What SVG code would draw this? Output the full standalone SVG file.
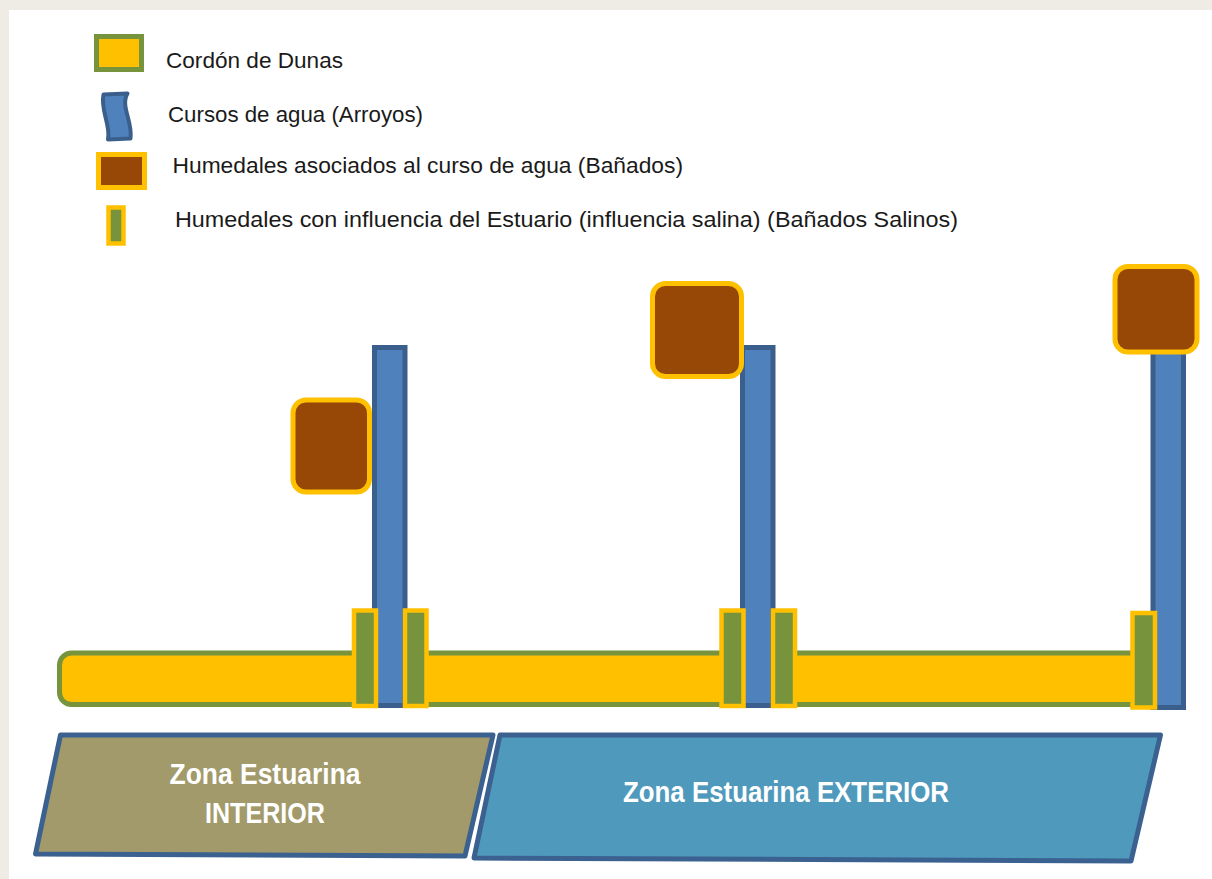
<svg xmlns="http://www.w3.org/2000/svg" width="1212" height="879" viewBox="0 0 1212 879">
  <style>
    .leg { font-family: "Liberation Sans", Arial, sans-serif; font-size: 22px; fill: #1a1a1a; }
    .zone { font-family: "Liberation Sans", Arial, sans-serif; font-size: 30px; font-weight: bold; fill: #ffffff; text-anchor: middle; }
    .dune { fill: #ffc000; stroke: #77933c; stroke-width: 5; }
    .river { fill: #4f81bd; stroke: #3b5f8c; stroke-width: 5; }
    .wet { fill: #974706; stroke: #ffc000; stroke-width: 5; }
    .salt { fill: #77933c; stroke: #ffc000; stroke-width: 4.5; }
    .zoneshape { stroke: #3b6190; stroke-width: 5; stroke-linejoin: round; }
  </style>
  <rect x="0" y="0" width="1212" height="879" fill="#efebe5"/>
  <rect x="9" y="10" width="1203" height="869" fill="#ffffff"/>

  <g id="legend">
    <g id="legend-dunas">
      <rect class="dune" x="96.5" y="36.5" width="45" height="33"/>
      <text class="leg" x="166" y="68" textLength="177" lengthAdjust="spacingAndGlyphs">Cordón de Dunas</text>
    </g>
    <g id="legend-cursos">
      <path d="M103.5,94.5 L127.5,93.5 C120,106 133,122 130.5,138.5 L108,139.5 C111,125 100,110 103.5,94.5 Z" fill="#4f81bd" stroke="#3b5f8c" stroke-width="4" stroke-linejoin="round"/>
      <text class="leg" x="168" y="122" textLength="255" lengthAdjust="spacingAndGlyphs">Cursos de agua (Arroyos)</text>
    </g>
    <g id="legend-banados">
      <rect class="wet" x="98.5" y="154.5" width="46" height="33"/>
      <text class="leg" x="172.5" y="173" textLength="510.5" lengthAdjust="spacingAndGlyphs">Humedales asociados al curso de agua (Bañados)</text>
    </g>
    <g id="legend-salinos">
      <rect class="salt" x="108.5" y="207.5" width="15" height="36"/>
      <text class="leg" x="175" y="227" textLength="783" lengthAdjust="spacingAndGlyphs">Humedales con influencia del Estuario (influencia salina) (Bañados Salinos)</text>
    </g>
  </g>

  <g id="cordon-dunas">
    <rect class="dune" x="59.5" y="653" width="1095" height="51.5" rx="12"/>
  </g>

  <g id="arroyo-1">
    <rect class="river" x="374.5" y="347.5" width="30.5" height="358"/>
  </g>
  <g id="arroyo-2">
    <rect class="river" x="742.5" y="347.5" width="30.5" height="358"/>
  </g>
  <g id="arroyo-3">
    <rect class="river" x="1153" y="340" width="30.5" height="367.5"/>
  </g>

  <g id="banado-1">
    <rect class="wet" x="293" y="400" width="76.5" height="92" rx="13"/>
  </g>
  <g id="banado-2">
    <rect class="wet" x="652.5" y="283.5" width="89" height="93" rx="13"/>
  </g>
  <g id="banado-3">
    <rect class="wet" x="1115" y="266.5" width="82" height="85.5" rx="13"/>
  </g>

  <g id="salino-1a"><rect class="salt" x="354" y="610.5" width="22" height="95.5"/></g>
  <g id="salino-1b"><rect class="salt" x="405" y="610.5" width="21.5" height="95.5"/></g>
  <g id="salino-2a"><rect class="salt" x="721.5" y="610.5" width="22" height="95.5"/></g>
  <g id="salino-2b"><rect class="salt" x="773" y="610.5" width="22" height="95.5"/></g>
  <g id="salino-3"><rect class="salt" x="1132.5" y="613" width="22.5" height="94.5"/></g>

  <g id="zona-interior">
    <polygon class="zoneshape" points="60.5,735 493,735 465,856 35.5,854" fill="#a29a6a"/>
    <text class="zone" x="265" y="784" textLength="191" lengthAdjust="spacingAndGlyphs">Zona Estuarina</text>
    <text class="zone" x="265" y="822.5" textLength="120" lengthAdjust="spacingAndGlyphs">INTERIOR</text>
  </g>
  <g id="zona-exterior">
    <polygon class="zoneshape" points="500,735 1160.5,735 1131,861 474,858" fill="#4f9abc"/>
    <text class="zone" x="786" y="802" textLength="326" lengthAdjust="spacingAndGlyphs">Zona Estuarina EXTERIOR</text>
  </g>
</svg>
